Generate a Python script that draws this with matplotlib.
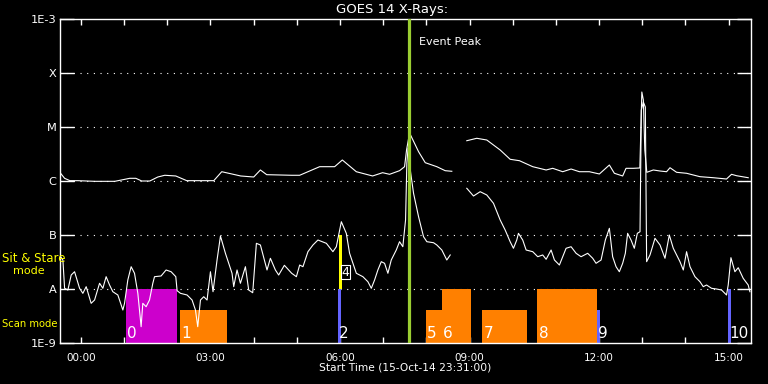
import numpy as np
import matplotlib
matplotlib.use("Agg")
import matplotlib.pyplot as plt
from matplotlib.ticker import FixedLocator, FuncFormatter, NullLocator

# ---------------- data ----------------
# time in hours after 00:00 (window starts 23:31 previous day), flux as log10(W/m^2)
long_t = [-0.47, -0.377, -0.254, -0.069, 0.324, 0.786, 1.133, 1.272, 1.411, 1.596,
          1.781, 1.943, 2.198, 2.452, 3.077, 3.262, 3.701, 4.002, 4.157, 4.303,
          4.881, 5.066, 5.529, 5.876, 6.054, 6.378, 6.755, 6.986, 7.148, 7.379,
          7.495, 7.541, 7.611, 7.819, 7.974, 8.242, 8.436, 8.589, 8.75,
          8.936, 9.167, 9.399, 9.709, 9.940, 10.155, 10.463, 10.773, 10.925, 11.157,
          11.351, 11.543, 11.774, 12.006, 12.237, 12.353, 12.545, 12.623, 12.792, 12.943,
          12.989, 13.024, 13.058, 13.104, 13.255, 13.410, 13.562, 13.641, 13.794, 14.025,
          14.335, 14.643, 14.950, 15.066, 15.182, 15.452]
long_log = [-5.857, -5.95, -5.994, -5.994, -6.006, -6.006, -5.95, -5.95, -6.0, -6.0,
            -5.926, -5.894, -5.907, -5.994, -5.994, -5.828, -5.907, -5.926, -5.796, -5.883,
            -5.894, -5.894, -5.735, -5.735, -5.611, -5.828, -5.907, -5.846, -5.876, -5.809,
            -5.735, -5.426, -5.111, -5.457, -5.661, -5.735, -5.809, -5.820, np.nan,
            -5.254, -5.209, -5.241, -5.426, -5.598, -5.624, -5.735, -5.796, -5.765, -5.828,
            -5.778, -5.828, -5.828, -5.870, -5.704, -5.857, -5.907, -5.765, -5.765, -5.759,
            -4.352, -4.5, -5.426, -5.839, -5.796, -5.815, -5.828, -5.754, -5.839, -5.857,
            -5.920, -5.939, -5.963, -5.876, -5.902, -5.939]

short_t = [-0.470, -0.416, -0.377, -0.301, -0.224, -0.146, -0.030, 0.046, 0.123, 0.238,
           0.317, 0.433, 0.509, 0.585, 0.664, 0.740, 0.856, 0.972, 1.011, 1.087,
           1.164, 1.242, 1.319, 1.395, 1.434, 1.511, 1.589, 1.666, 1.705, 1.857,
           1.973, 2.089, 2.198, 2.228, 2.306, 2.459, 2.575, 2.653, 2.706, 2.769,
           2.845, 2.922, 3.000, 3.060, 3.153, 3.232, 3.347, 3.424, 3.500, 3.539,
           3.616, 3.694, 3.810, 3.886, 3.979, 4.064, 4.157, 4.310, 4.388, 4.504,
           4.580, 4.712, 4.881, 4.990, 5.066, 5.142, 5.258, 5.374, 5.489, 5.684,
           5.836, 5.915, 6.031, 6.146, 6.222, 6.378, 6.530, 6.646, 6.725, 6.801,
           6.877, 6.956, 7.032, 7.109, 7.187, 7.303, 7.379, 7.455, 7.518, 7.548,
           7.576, 7.634, 7.703, 7.819, 7.934, 8.011, 8.166, 8.242, 8.358, 8.473,
           8.552, 8.75,
           8.936, 9.091, 9.246, 9.399, 9.554, 9.709, 9.824, 9.940, 10.016, 10.093,
           10.132, 10.231, 10.310, 10.463, 10.578, 10.694, 10.773, 10.888, 10.965, 11.080,
           11.157, 11.235, 11.351, 11.467, 11.582, 11.735, 11.851, 11.929, 12.045, 12.144,
           12.237, 12.313, 12.392, 12.468, 12.545, 12.607, 12.660, 12.739, 12.815, 12.885,
           12.947, 12.977, 13.024, 13.070, 13.100, 13.178, 13.294, 13.410, 13.525, 13.625,
           13.717, 13.872, 13.949, 14.025, 14.104, 14.219, 14.335, 14.411, 14.488, 14.603,
           14.719, 14.835, 14.950, 14.989, 15.052, 15.144, 15.221, 15.336, 15.452, 15.491]
short_log = [-7.402, -7.463, -7.987, -8.019, -7.741, -7.680, -7.987, -8.080, -7.957, -8.265,
             -8.204, -7.894, -7.987, -7.772, -7.926, -8.050, -8.111, -8.389, -8.265, -7.833,
             -7.587, -7.709, -8.080, -8.698, -8.265, -8.328, -8.204, -7.894, -7.772, -7.759,
             -7.648, -7.680, -7.772, -8.031, -8.080, -8.111, -8.204, -8.389, -8.698, -8.204,
             -8.143, -8.204, -7.680, -8.050, -7.463, -7.019, -7.339, -7.524, -7.709, -7.957,
             -7.648, -7.894, -7.587, -8.019, -8.069, -7.154, -7.185, -7.648, -7.431, -7.648,
             -7.741, -7.561, -7.709, -7.772, -7.556, -7.587, -7.309, -7.185, -7.093, -7.154,
             -7.309, -7.217, -6.754, -6.969, -7.339, -7.709, -7.772, -7.865, -7.987, -7.833,
             -7.648, -7.494, -7.524, -7.709, -7.463, -7.278, -7.124, -7.217, -6.722, -5.672,
             -5.389, -5.833, -6.228, -6.661, -7.031, -7.124, -7.143, -7.185, -7.278, -7.463,
             -7.370, np.nan,
             -6.135, -6.278, -6.198, -6.259, -6.413, -6.722, -6.907, -7.124, -7.246, -7.093,
             -6.969, -7.093, -7.278, -7.309, -7.402, -7.370, -7.450, -7.278, -7.463, -7.556,
             -7.402, -7.246, -7.217, -7.339, -7.402, -7.339, -7.431, -7.524, -7.463, -7.093,
             -6.876, -7.402, -7.587, -7.680, -7.524, -7.339, -6.969, -7.093, -7.246, -6.969,
             -6.939, -4.685, -4.537, -4.630, -7.494, -7.370, -7.061, -7.185, -7.431, -7.0,
             -7.246, -7.494, -7.648, -7.309, -7.587, -7.772, -7.865, -7.957, -7.926, -7.987,
             -8.0, -8.019, -8.111, -7.926, -7.420, -7.680, -7.606, -7.802, -7.926, -8.050]

# observing segments (hours) and their flux-axis extent
seg_labels = ['0', '1', '2', '4', '5', '6', '7', '8', '9', '10']
seg_start = [1.041, 2.290, 5.945, 5.975, 7.981, 8.358, 9.299, 10.571, 11.94, 14.98]
seg_end = [2.221, 3.377, 6.022, 6.053, 8.358, 9.038, 10.333, 11.952, 12.01, 15.06]
seg_bottom = [1e-9, 1e-9, 1e-9, 1e-8, 1e-9, 1e-9, 1e-9, 1e-9, 1e-9, 1e-9]
seg_top = [1e-8, 4.1e-9, 1e-8, 1e-7, 4.1e-9, 1e-8, 4.1e-9, 1e-8, 4.1e-9, 1e-8]
seg_kind = ['sit', 'scan', 'blue', 'yellow', 'scan', 'scan', 'scan', 'scan', 'blue', 'blue']

event_peak = 7.59

y_ticks = [1e-9, 1e-8, 1e-7, 1e-6, 1e-5, 1e-4, 1e-3]
y_ticklabels = ['1E-9', 'A', 'B', 'C', 'M', 'X', '1E-3']
x_hours = list(range(0, 16))
start_label = 'Start Time (15-Oct-14 23:31:00)'
title = 'GOES 14 X-Rays:'

# ---------------- style ----------------
kind_color = {'sit': '#CC00CC', 'scan': '#FF8000', 'blue': '#6464FF', 'yellow': '#FFFF00'}
W, H = 768, 384
fig = plt.figure(figsize=(W / 100, H / 100), dpi=100, facecolor='black')
ax = fig.add_axes([60 / W, 41 / H, 691 / W, 324 / H], facecolor='black')
ax.set_yscale('log')
ax.set_xlim(-0.4833, 15.5167)
ax.set_ylim(1e-9, 1e-3)

# gridlines (dotted) at GOES class levels
for yv in y_ticks[1:-1]:
    ax.axhline(yv, color='white', lw=0.8, ls=(0, (1, 5)), zorder=1)

# segments
for lab, s, e, b, t, k in zip(seg_labels, seg_start, seg_end, seg_bottom, seg_top, seg_kind):
    ax.bar(s, t - b, width=e - s, bottom=b, align='edge', color=kind_color[k],
           linewidth=0, zorder=2)
    if k == 'yellow':
        ax.annotate(lab, (s, 10 ** -7.69), xytext=(2, 0), textcoords='offset points',
                    color='white', fontsize=9, va='center', ha='left', zorder=5,
                    bbox=dict(boxstyle='square,pad=0.05', fc='none', ec='white', lw=0.8))
    else:
        ax.annotate(lab, (s, 10 ** -8.82), xytext=(1, 0), textcoords='offset points',
                    color='white', fontsize=11, va='center', ha='left', zorder=5)

# flux curves
ax.plot(long_t, 10 ** np.array(long_log), color='white', lw=0.8, zorder=3)
ax.plot(short_t, 10 ** np.array(short_log), color='white', lw=0.8, zorder=3)

# event peak
ax.axvline(event_peak, color='#9ACD32', lw=2.3, zorder=4)
ax.annotate('Event Peak', (event_peak, 10 ** -3.435), xytext=(7.5, 0),
            textcoords='offset points', color='white', fontsize=8, va='center', ha='left')

# axes / ticks
for sp in ax.spines.values():
    sp.set_color('white')
    sp.set_linewidth(1.0)
ax.yaxis.set_major_locator(FixedLocator(y_ticks))
ax.yaxis.set_minor_locator(NullLocator())
ax.set_yticklabels(y_ticklabels)
ax.tick_params(axis='y', which='major', direction='in', length=10, width=1.0,
               colors='white', left=True, right=True, labelsize=8.2, pad=2.5)
ax.xaxis.set_major_locator(FixedLocator(x_hours))
ax.xaxis.set_major_formatter(FuncFormatter(lambda v, p: f"{int(round(v)):02d}:00" if int(round(v)) % 3 == 0 else ''))
ax.tick_params(axis='x', which='major', direction='in', length=4, width=1.0,
               colors='white', top=True, bottom=True, labelsize=7.5, pad=7)

fig.text(392 / W, 1 - 9.5 / H, title, color='white', fontsize=9.5, ha='center', va='center')
fig.text(405.5 / W, 1 - 368 / H, start_label, color='white', fontsize=7.7, ha='center', va='center')
fig.text(2 / W, 1 - 259 / H, 'Sit & Stare', color='yellow', fontsize=8.5, ha='left', va='center', zorder=10)
fig.text(13 / W, 1 - 271 / H, 'mode', color='yellow', fontsize=8, ha='left', va='center')
fig.text(2 / W, 1 - 324 / H, 'Scan mode', color='yellow', fontsize=7.2, ha='left', va='center')

fig.savefig('out.png', dpi=100, facecolor='black')
